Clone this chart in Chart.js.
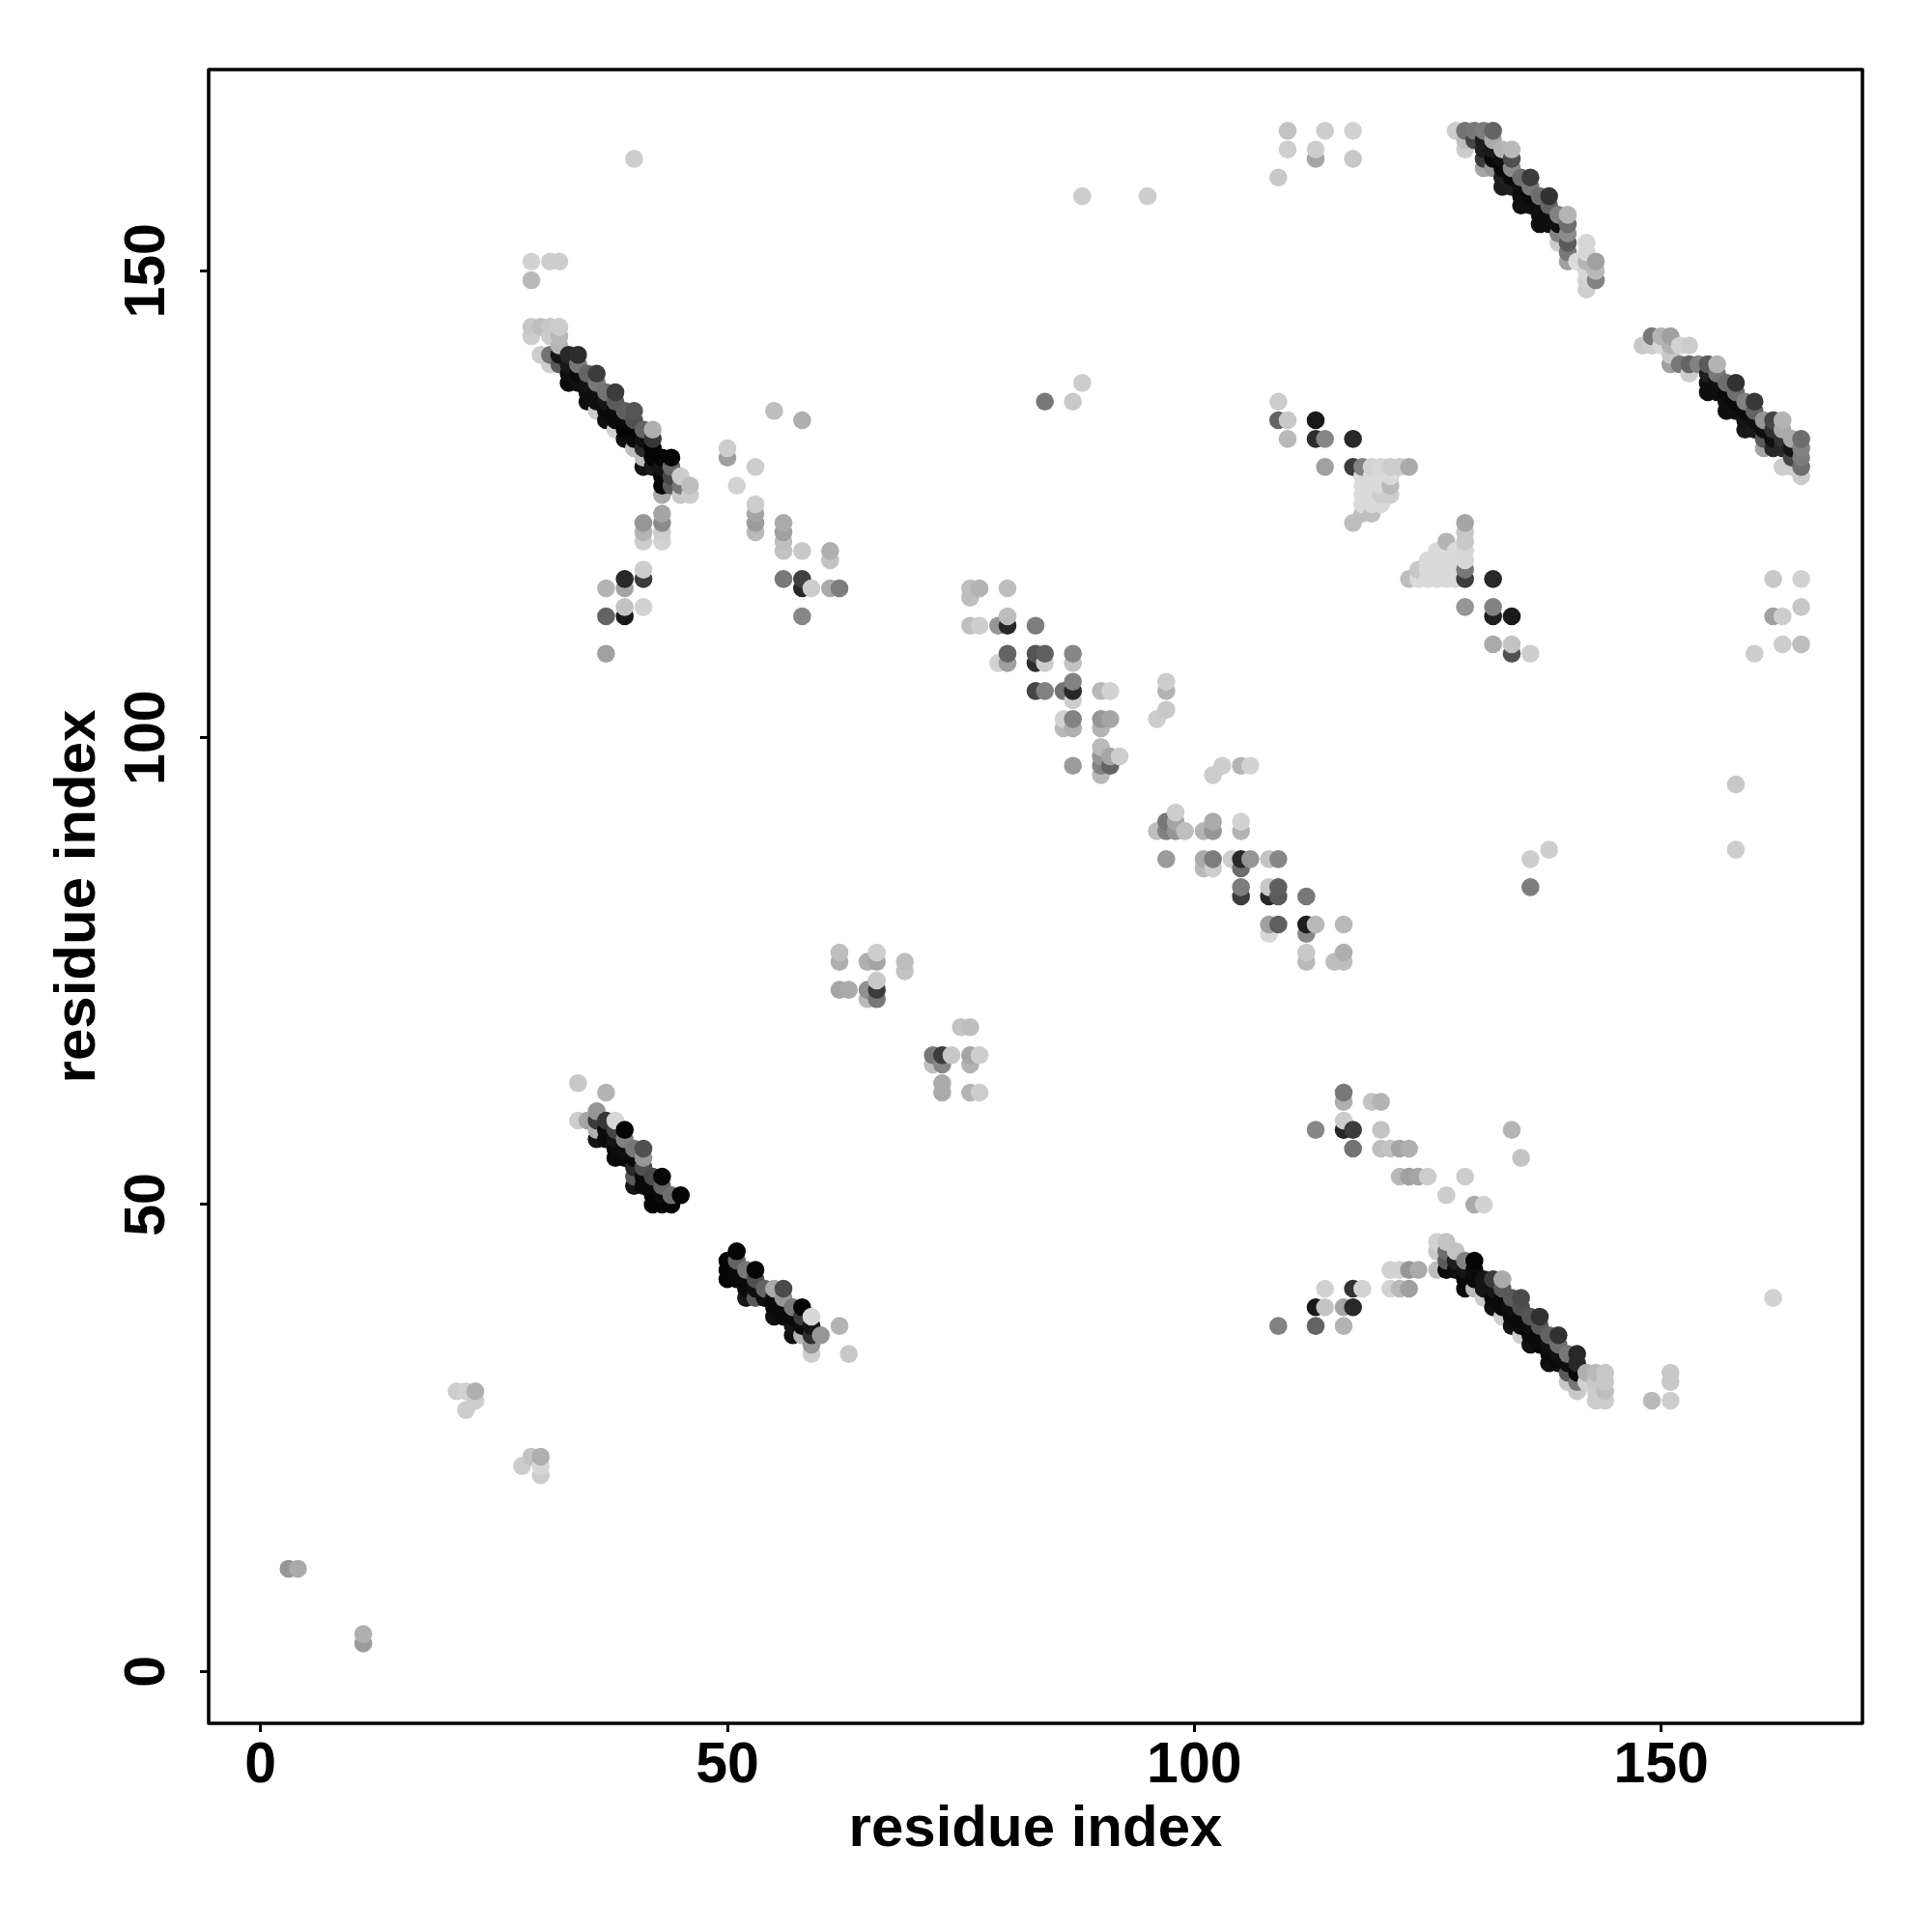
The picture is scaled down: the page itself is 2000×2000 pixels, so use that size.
<!DOCTYPE html>
<html><head><meta charset="utf-8">
<style>html,body{margin:0;padding:0;background:#fff}#w{width:2000px;height:2000px}</style>
<script src="https://cdn.jsdelivr.net/npm/chart.js@4/dist/chart.umd.min.js"></script>
</head><body><div id="w"><canvas id="c" width="2000" height="2000"></canvas></div>
<script>
// each entry: [residue i, residue j, grey level]
const scatteredLow = [[3,11,150],[4,11,170],[11,4,175],[11,3,155],[21,30,205],[22,30,210],[23,30,175],[23,29,205],[22,28,205],[28,22,205],[29,23,195],[30,23,175],[30,22,215],[30,21,205]];
const topStray = [[29,151,210],[31,151,205],[32,151,205],[29,149,185],[40,162,205],[88,158,205],[95,158,205],[110,165,195],[114,165,205],[117,165,210],[110,163,205],[113,162,165],[113,163,205],[117,162,200],[109,160,200],[84,136,120],[87,136,200],[88,138,205],[158,95,200],[158,88,205],[138,88,205],[136,87,205],[136,84,125],[162,40,210]];
const strandUpperLeft = [[29,144,200],[29,143,205],[30,144,190],[31,144,200],[31,143,205],[32,144,205],[32,143,185],[32,142,180],[30,141,205],[31,141,115],[31,140,205],[32,141,20],[32,140,90],[33,141,40],[34,141,45],[33,140,25],[33,139,15],[33,138,10],[34,140,120],[34,139,10],[34,138,15],[35,139,100],[36,139,60],[35,138,20],[35,137,15],[35,136,15],[36,138,120],[36,137,15],[36,136,15],[36,135,205],[37,137,115],[38,137,60],[37,136,20],[37,135,10],[37,134,15],[38,136,90],[38,135,10],[38,134,10],[38,133,210],[39,135,95],[40,135,85],[39,134,10],[39,133,5],[39,132,15],[40,134,80],[40,133,5],[40,132,10],[40,131,190],[41,133,100],[42,133,175],[41,132,15],[41,131,40],[41,130,190],[41,129,20],[42,132,55],[42,131,5],[42,130,5],[42,129,25],[43,130,5],[44,130,5],[43,129,20],[43,128,10],[43,127,5],[43,126,170],[44,129,110],[44,128,70],[44,127,90],[45,128,205],[45,127,120],[45,126,200],[46,127,190],[46,126,205]];
const upperLeftSatellites = [[55,135,190],[58,134,175],[50,131,205],[50,130,160],[53,129,205],[51,127,210],[53,125,205],[53,124,165],[53,123,155],[53,122,185],[56,123,170],[56,122,160],[56,121,190],[56,120,195],[58,120,200],[61,120,175],[61,119,195],[56,117,120],[58,117,65],[58,116,40],[59,116,205],[61,116,170],[62,116,125],[58,113,135],[41,123,150],[41,122,180],[41,121,205],[43,124,165],[43,123,140],[43,122,205],[43,121,210],[41,118,205],[41,117,60],[39,117,40],[37,116,180],[39,116,165],[37,113,100],[39,114,195],[39,113,25],[41,114,210],[37,109,160]];
const strandLowerRight = [[126,46,210],[127,46,195],[126,45,200],[128,45,195],[126,43,190],[127,45,110],[127,44,90],[127,43,10],[128,44,30],[128,43,15],[129,44,130],[130,44,5],[129,43,20],[129,42,10],[129,41,10],[130,43,10],[130,42,10],[130,41,185],[131,42,20],[131,41,20],[131,40,205],[132,42,60],[133,42,170],[132,41,20],[132,40,10],[132,39,15],[133,41,90],[133,40,10],[133,39,10],[133,38,205],[134,40,90],[135,40,75],[134,39,15],[134,38,10],[134,37,15],[135,39,80],[135,38,10],[135,37,10],[135,36,205],[136,38,85],[137,38,50],[136,37,15],[136,36,10],[136,35,15],[137,37,90],[137,36,10],[137,35,10],[138,36,100],[139,36,50],[138,35,15],[138,34,10],[138,33,15],[139,35,110],[139,34,15],[139,33,10],[140,34,120],[141,34,40],[140,33,15],[140,32,90],[140,31,200],[141,33,40],[141,32,10],[141,31,120],[141,30,200],[142,32,175],[143,32,185],[144,32,200],[142,31,210],[143,31,200],[144,31,200],[143,30,205],[144,30,190],[143,29,205],[144,29,205],[149,29,185],[151,32,200],[151,31,200],[151,29,205]];
const lowerRightSatellites = [[116,62,120],[116,61,175],[116,59,205],[116,58,40],[117,58,60],[113,58,135],[117,56,115],[119,61,195],[120,61,180],[120,58,195],[120,56,190],[121,56,195],[122,56,165],[123,56,175],[122,53,185],[123,53,160],[124,53,165],[125,53,205],[129,53,205],[127,51,205],[130,50,170],[131,50,210],[134,58,180],[135,55,195],[121,43,210],[122,43,210],[123,43,150],[124,43,170],[121,41,210],[122,41,185],[123,41,160],[114,41,210],[117,41,50],[118,41,210],[113,39,25],[114,39,195],[116,39,165],[117,39,40],[113,37,100],[116,37,180],[109,37,130]];
const strandMiddleA = [[34,63,200],[37,62,180],[34,59,205],[35,59,165],[36,60,150],[36,59,60],[36,58,175],[36,57,20],[37,59,55],[37,58,10],[37,57,10],[38,59,215],[39,58,5],[38,58,70],[38,57,20],[38,56,10],[38,55,10],[39,57,130],[39,56,15],[39,55,10],[40,56,120],[41,56,80],[40,55,10],[40,54,40],[40,53,90],[40,52,20],[41,55,150],[41,54,80],[41,53,10],[41,52,10],[42,53,75],[43,53,5],[42,52,10],[42,51,5],[42,50,5],[43,52,100],[43,51,10],[43,50,5],[44,51,110],[44,50,5],[45,51,5]];
const strandMiddleB = [[51,45,5],[50,44,5],[50,43,5],[50,42,5],[51,44,100],[51,43,10],[51,42,10],[52,43,120],[53,43,5],[52,42,10],[52,41,10],[52,40,25],[53,42,80],[53,41,15],[53,40,90],[54,41,100],[55,41,170],[56,41,75],[54,40,15],[55,40,10],[55,39,10],[55,38,15],[56,40,150],[56,39,10],[56,38,10],[57,39,120],[58,39,5],[57,38,10],[57,37,20],[57,36,15],[58,38,60],[58,37,10],[58,36,180],[59,38,215],[59,37,20],[59,36,45],[59,35,150],[59,34,205],[60,36,150],[62,37,180],[63,34,200]];
const strandTopRight = [[128,165,205],[129,165,115],[130,165,120],[131,165,125],[132,165,100],[129,164,190],[129,163,205],[130,164,70],[131,164,30],[131,163,30],[131,162,60],[131,161,165],[132,164,170],[132,163,25],[132,162,10],[132,161,150],[133,163,180],[134,163,185],[133,162,15],[133,161,10],[133,160,30],[133,159,30],[134,162,80],[134,161,140],[134,160,10],[134,159,30],[135,160,110],[136,160,60],[135,159,15],[135,158,15],[135,157,15],[136,159,120],[136,158,10],[136,157,15],[137,158,110],[138,158,50],[137,157,15],[137,156,15],[137,155,15],[138,157,100],[138,156,15],[138,155,15],[139,156,130],[140,156,180],[139,155,15],[139,154,130],[139,153,205],[140,155,110],[140,154,140],[140,153,90],[140,152,120],[140,151,160],[141,151,220],[142,153,215],[142,152,215],[142,151,180],[142,150,215],[142,149,210],[142,148,205],[143,151,160],[143,150,185],[143,149,130]];
const strandFarRight = [[148,142,200],[149,143,120],[149,142,205],[150,143,180],[151,143,160],[150,142,215],[151,142,180],[152,142,210],[153,142,205],[151,141,200],[151,140,160],[152,140,120],[153,140,100],[154,140,130],[155,140,90],[156,140,180],[153,139,205],[155,139,30],[155,138,15],[155,137,15],[156,139,120],[156,138,15],[156,137,15],[157,138,110],[158,138,50],[157,137,10],[157,136,15],[157,135,15],[158,137,110],[158,136,10],[158,135,15],[159,136,130],[160,136,55],[159,135,10],[159,134,20],[159,133,25],[160,135,100],[160,134,15],[160,133,25],[161,134,150],[162,134,70],[163,134,180],[161,133,15],[161,132,90],[161,131,165],[162,133,50],[162,132,15],[162,131,40],[163,133,170],[163,132,50],[163,131,40],[163,129,205],[164,132,170],[164,131,20],[164,130,70],[164,129,205],[165,132,110],[165,131,130],[165,130,125],[165,129,110],[165,128,205]];
const upperMiddleCluster = [[109,136,205],[109,134,100],[110,134,200],[110,132,185],[113,134,25],[113,132,45],[114,132,135],[114,129,160],[117,132,40],[117,129,60],[118,129,130],[119,129,210],[120,129,215],[121,129,205],[122,129,205],[123,129,170],[118,128,218],[118,127,218],[118,126,218],[118,125,218],[119,128,218],[119,127,218],[119,126,218],[119,125,218],[119,124,190],[120,128,218],[120,127,218],[120,126,205],[120,125,218],[121,128,218],[121,127,185],[121,126,205],[118,124,190],[117,123,190],[123,117,190],[124,118,200],[125,119,218],[126,120,218],[127,121,180],[124,117,218],[125,117,218],[126,117,218],[127,117,218],[128,117,218],[125,118,218],[126,118,218],[127,118,218],[128,118,218],[126,119,218],[127,119,218],[128,119,218],[127,120,218],[128,120,218],[129,123,165],[129,122,200],[129,121,200],[129,120,215],[129,119,215],[129,118,120],[129,117,60],[132,117,40],[129,114,150],[132,114,130],[132,113,30],[134,113,25],[132,110,170],[134,110,195],[134,109,80],[136,109,205],[162,117,200],[165,117,210],[165,114,200],[162,113,160],[163,113,205],[163,110,205],[165,110,190],[160,109,205]];
const centralDiagonal = [[76,116,190],[77,116,180],[76,115,190],[80,116,190],[76,112,190],[77,112,205],[79,112,150],[80,113,190],[80,112,40],[83,112,125],[79,108,210],[80,109,100],[80,108,160],[83,109,85],[84,109,95],[83,108,45],[84,108,205],[87,109,135],[87,108,195],[83,105,70],[84,105,130],[86,105,115],[87,106,130],[87,105,40],[87,104,205],[90,105,185],[91,105,210],[97,106,205],[97,105,180],[97,103,200],[96,102,205],[86,102,210],[87,102,130],[86,101,185],[87,101,175],[90,102,150],[91,102,165],[90,101,180],[90,99,185],[90,98,150],[91,98,165],[92,98,205],[90,97,130],[91,97,100],[90,96,185],[87,97,155],[102,96,205],[103,97,205],[105,97,180],[106,97,210],[96,90,190],[97,91,120],[97,90,130],[98,92,205],[98,91,165],[98,90,150],[99,90,190],[101,90,180],[102,91,170],[102,90,150],[105,91,210],[105,90,180],[97,87,155],[101,87,170],[101,86,185],[102,87,125],[102,86,205],[104,87,205],[105,87,40],[105,86,110],[106,87,150],[108,87,195],[109,87,135],[105,84,125],[105,83,60],[108,84,200],[108,83,40],[109,84,95],[109,83,90],[112,83,120],[108,80,160],[108,79,215],[109,80,95],[112,80,30],[112,79,135],[113,80,185],[116,80,185],[112,77,200],[112,76,185],[115,76,190],[116,77,175],[116,76,190]];
const lowerMiddleCluster = [[62,77,190],[62,76,175],[62,73,165],[63,73,170],[65,76,175],[66,77,205],[66,76,165],[69,76,190],[69,75,195],[65,73,145],[65,72,185],[66,74,200],[66,73,60],[66,72,120],[75,69,195],[76,69,190],[72,66,120],[73,66,60],[74,66,200],[72,65,190],[73,65,135],[76,66,165],[77,66,205],[76,65,180],[73,63,170],[73,62,170],[76,62,180],[77,62,205]];
const xTickValues = [0,50,100,150];
const yTickValues = [0,50,100,150];
const axisTitle = "residue index";
const axisMin = -5.56, axisMax = 171.56;

const contacts = [scatteredLow,topStray,strandUpperLeft,upperLeftSatellites,strandLowerRight,lowerRightSatellites,strandMiddleA,strandMiddleB,strandTopRight,strandFarRight,upperMiddleCluster,centralDiagonal,lowerMiddleCluster]
  .flat().sort((a,b)=>a[0]-b[0]||a[1]-b[1]);

const FONT = '"Liberation Sans", Arial, sans-serif';
const frame = {id:'frame',afterDraw(ch){const a=ch.chartArea,c=ch.ctx;c.save();c.strokeStyle='#000';c.lineWidth=3.6;c.lineJoin='round';c.strokeRect(a.left,a.top,a.right-a.left,a.bottom-a.top);c.restore();}};

new Chart(document.getElementById('c'),{
  type:'scatter',
  data:{datasets:[{data:contacts.map(p=>({x:p[0],y:p[1]})),
    backgroundColor:contacts.map(p=>`rgb(${p[2]},${p[2]},${p[2]})`),
    borderWidth:0,pointRadius:9.3,pointHoverRadius:9.3}]},
  plugins:[frame],
  options:{responsive:false,devicePixelRatio:1,animation:false,
    layout:{padding:{top:72,right:72,left:0,bottom:0}},
    plugins:{legend:{display:false},tooltip:{enabled:false}},
    scales:{
      x:{type:'linear',min:axisMin,max:axisMax,
        afterFit(s){s.height=216;},
        afterBuildTicks(s){s.ticks=xTickValues.map(v=>({value:v}));},
        grid:{drawOnChartArea:false,drawTicks:true,tickLength:9,tickWidth:3,tickColor:'#000'},
        border:{display:false},
        ticks:{color:'#000',font:{family:FONT,size:59,weight:'bold'},padding:0,maxRotation:0,minRotation:0,autoSkip:false},
        title:{display:true,text:axisTitle,color:'#000',font:{family:FONT,size:60,weight:'bold'},padding:{top:0,bottom:70}}},
      y:{type:'linear',min:axisMin,max:axisMax,
        afterFit(s){s.width=216;},
        afterBuildTicks(s){s.ticks=yTickValues.map(v=>({value:v}));},
        grid:{drawOnChartArea:false,drawTicks:true,tickLength:9,tickWidth:3,tickColor:'#000'},
        border:{display:false},
        ticks:{color:'#000',font:{family:FONT,size:59,weight:'bold'},padding:4,minRotation:90,maxRotation:90,crossAlign:'center',autoSkip:false},
        title:{display:true,text:axisTitle,color:'#000',font:{family:FONT,size:60,weight:'bold'},padding:{top:45,bottom:0}}}
    }
  }
});
</script></body></html>
